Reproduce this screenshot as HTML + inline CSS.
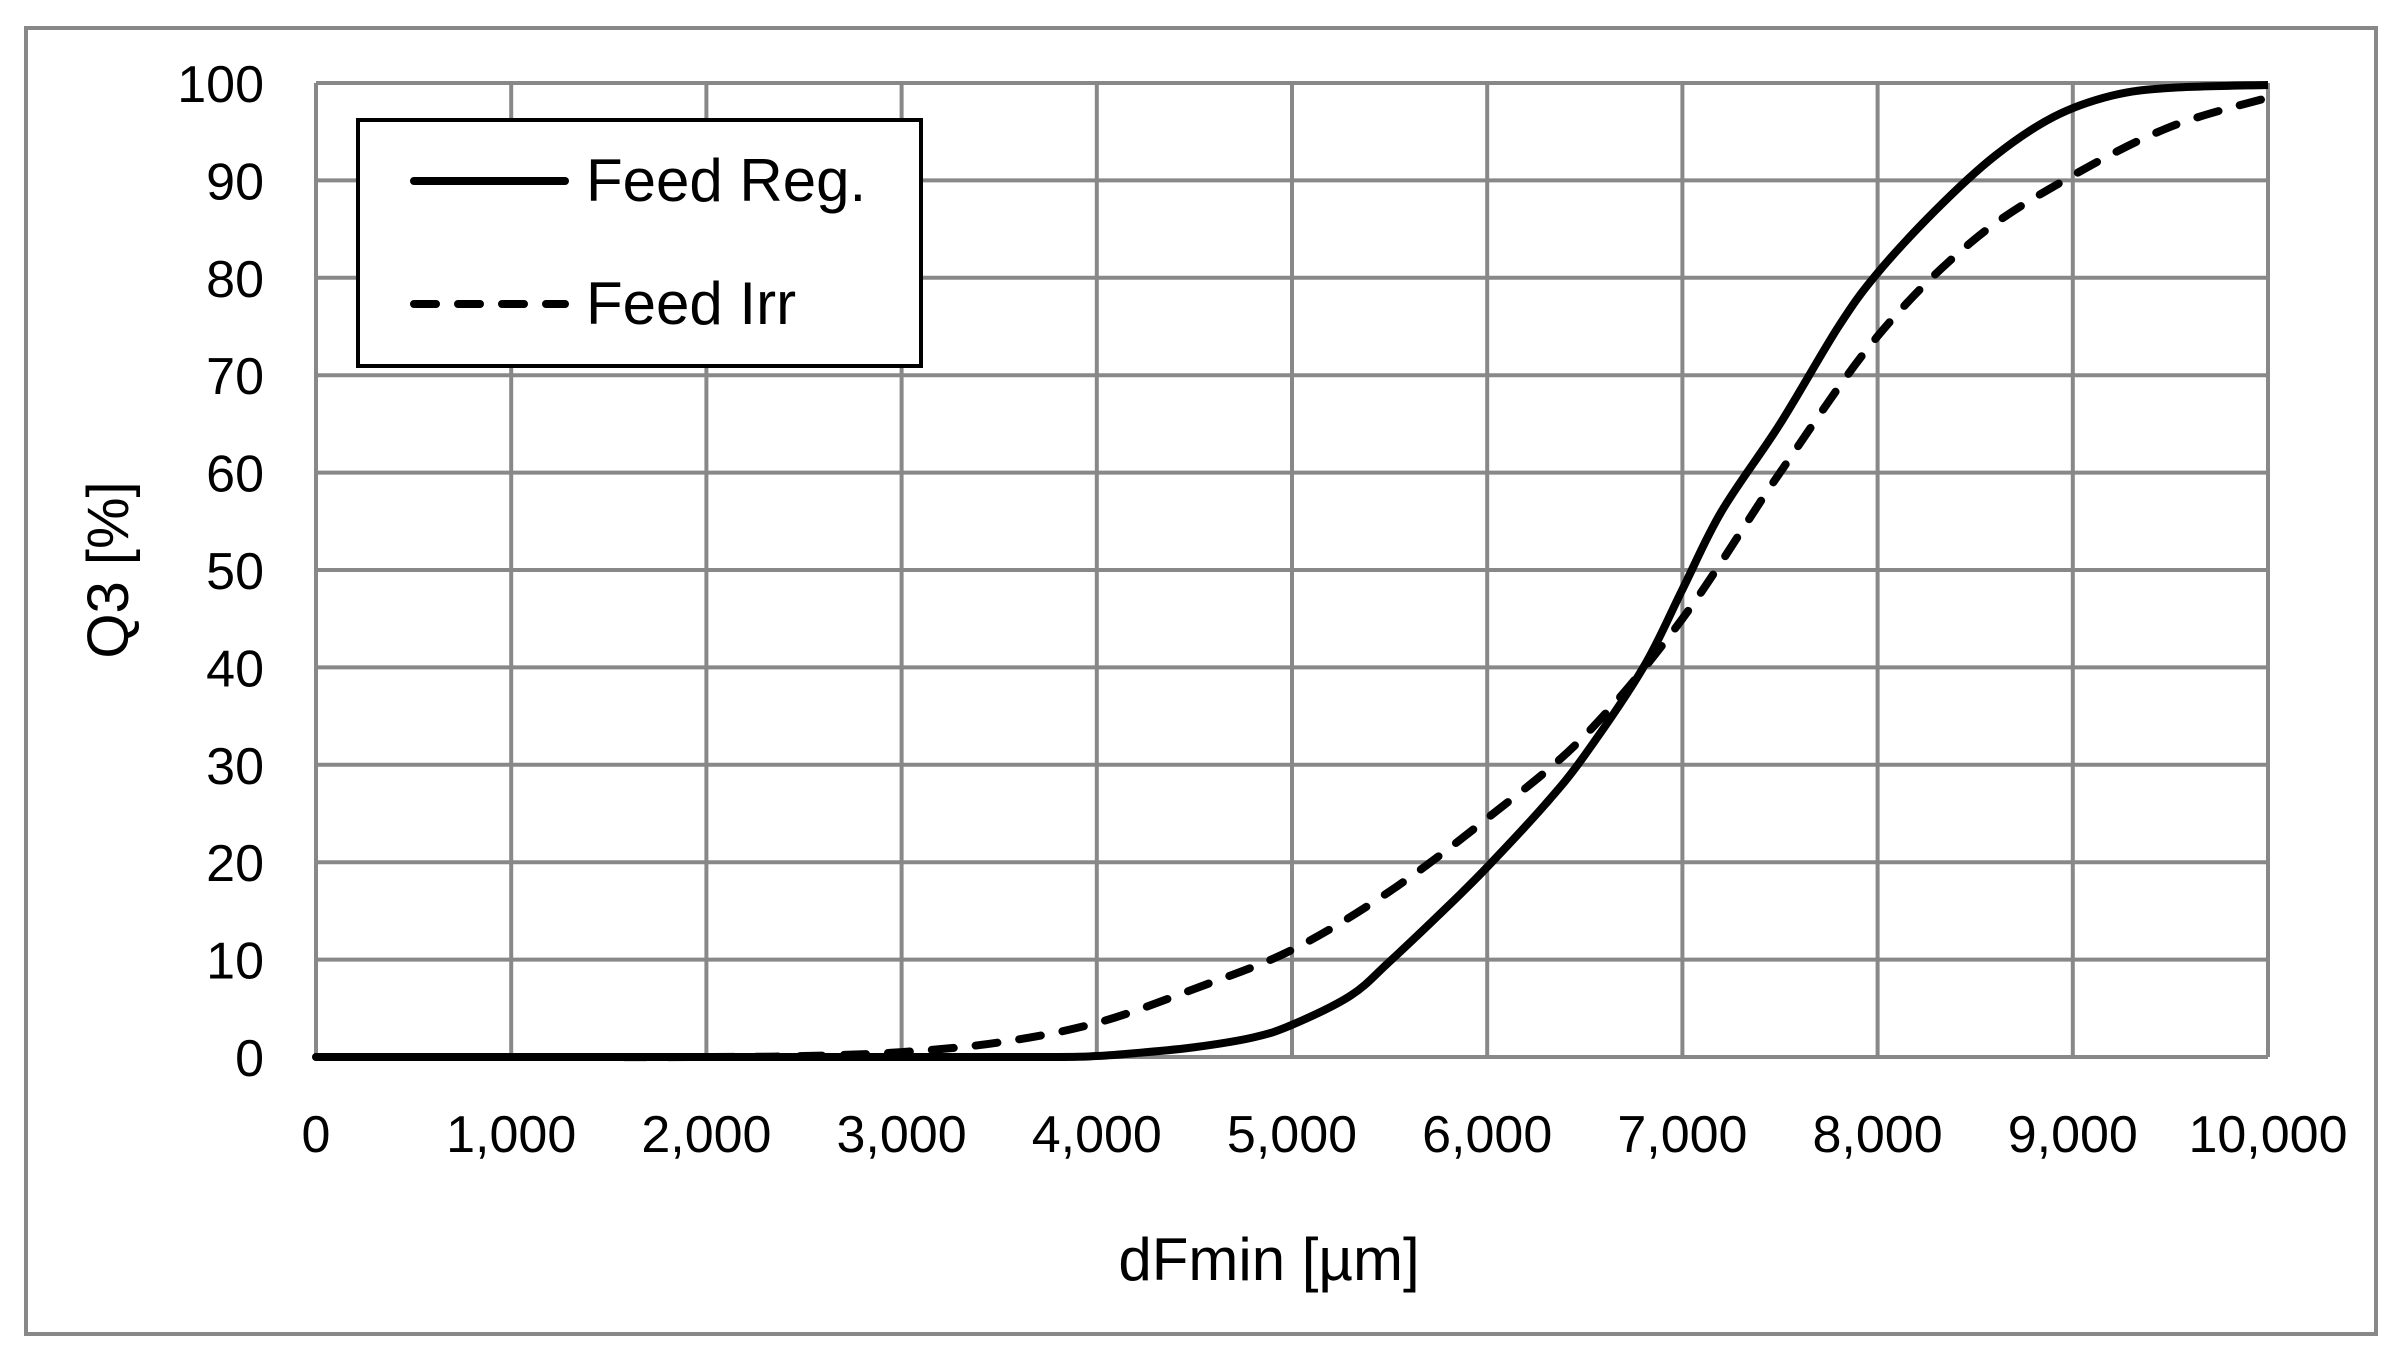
<!DOCTYPE html>
<html><head><meta charset="utf-8"><style>
html,body{margin:0;padding:0;background:#fff;}
svg{display:block;font-family:"Liberation Sans",sans-serif;}
</style></head><body>
<svg id="chart" width="2406" height="1355" viewBox="0 0 2406 1355">
<rect x="26" y="28" width="2350" height="1306" fill="#fff" stroke="#888" stroke-width="4"/>
<g id="grid"></g>
<g id="yticks"></g>
<g id="xticks"></g>
<g id="series"></g>
<text x="1269" y="1280" font-size="60" text-anchor="middle">dFmin [µm]</text>
<text transform="translate(128,570) rotate(-90)" font-size="58" text-anchor="middle">Q3 [%]</text>
<g>
<rect x="358" y="120" width="563" height="246" fill="#fff" stroke="#000" stroke-width="4"/>
<line x1="414" y1="181" x2="565" y2="181" stroke="#000" stroke-width="8" stroke-linecap="round"/>
<text x="586" y="201" font-size="60">Feed Reg.</text>
<line x1="414" y1="304" x2="565" y2="304" stroke="#000" stroke-width="8" stroke-dasharray="22,22" stroke-linecap="round"/>
<text x="586" y="324" font-size="60">Feed Irr</text>
</g>
</svg>
<script>
const xTicks=[0,1000,2000,3000,4000,5000,6000,7000,8000,9000,10000];
const xTickLabels=["0","1,000","2,000","3,000","4,000","5,000","6,000","7,000","8,000","9,000","10,000"];
const yTicks=[0,10,20,30,40,50,60,70,80,90,100];
const regX=[0,1000,2000,3000,3800,4000,4200,4500,4800,5000,5300,5500,5800,6000,6300,6500,6800,7000,7200,7500,7800,8000,8300,8600,8900,9200,9500,10000];
const regY=[0,0,0,0,0,0.1,0.4,1,2,3.3,6.3,9.8,15.5,19.5,26,31,40,48,56,65,75,80.5,87,92.5,96.5,98.7,99.5,99.8];
const irrX=[0,1000,2000,2500,3000,3500,4000,4500,5000,5500,6000,6500,7000,7500,8000,8500,9000,9500,10000];
const irrY=[0,0,0,0.1,0.5,1.5,3.5,7,11,17,24.5,33,45,60,74,84,90.5,95.5,98.5];
const L=316,R=2268,T=83,B=1057;
const sx=v=>L+(v-0)/(10000-0)*(R-L);
const sy=v=>B-(v-0)/(100-0)*(B-T);
const NS="http://www.w3.org/2000/svg";
const grid=document.getElementById('grid');
xTicks.forEach((t,i)=>{
 const l=document.createElementNS(NS,'line');
 l.setAttribute('x1',sx(t));l.setAttribute('x2',sx(t));l.setAttribute('y1',T);l.setAttribute('y2',B);
 l.setAttribute('stroke','#888');l.setAttribute('stroke-width','4');
 
 
 grid.appendChild(l);
 const tx=document.createElementNS(NS,'text');
 tx.setAttribute('x',sx(t));tx.setAttribute('y',1152);tx.setAttribute('font-size','52');tx.setAttribute('text-anchor','middle');
 tx.textContent=xTickLabels[i];
 
 
 document.getElementById('xticks').appendChild(tx);
});
yTicks.forEach(t=>{
 const l=document.createElementNS(NS,'line');
 l.setAttribute('x1',L);l.setAttribute('x2',R);l.setAttribute('y1',sy(t));l.setAttribute('y2',sy(t));
 l.setAttribute('stroke','#888');l.setAttribute('stroke-width','4');
 
 
 grid.appendChild(l);
 const tx=document.createElementNS(NS,'text');
 tx.setAttribute('x',264);tx.setAttribute('y',sy(t)+19);tx.setAttribute('font-size','52');tx.setAttribute('text-anchor','end');
 tx.textContent=String(t);
 
 
 document.getElementById('yticks').appendChild(tx);
});
function path(xs,ys){
 const p=xs.map((x,i)=>[sx(x),sy(ys[i])]);
 let d='M'+p[0][0]+','+p[0][1];
 for(let i=0;i<p.length-1;i++){
  const p0=p[Math.max(0,i-1)],p1=p[i],p2=p[i+1],p3=p[Math.min(p.length-1,i+2)];
  const c1x=p1[0]+(p2[0]-p0[0])/6,c1y=p1[1]+(p2[1]-p0[1])/6;
  const c2x=p2[0]-(p3[0]-p1[0])/6,c2y=p2[1]-(p3[1]-p1[1])/6;
  d+=' C'+c1x+','+c1y+' '+c2x+','+c2y+' '+p2[0]+','+p2[1];
 }
 return d;
}
const s=document.getElementById('series');
const a=document.createElementNS(NS,'path');
a.setAttribute('d',path(irrX,irrY));a.setAttribute('fill','none');a.setAttribute('stroke','#000');
a.setAttribute('stroke-width','8');a.setAttribute('stroke-dasharray','22,22');a.setAttribute('stroke-linecap','round');


s.appendChild(a);
const b=document.createElementNS(NS,'path');
b.setAttribute('d',path(regX,regY));b.setAttribute('fill','none');b.setAttribute('stroke','#000');
b.setAttribute('stroke-width','8');b.setAttribute('stroke-linejoin','round');


s.appendChild(b);
</script>
</body></html>
